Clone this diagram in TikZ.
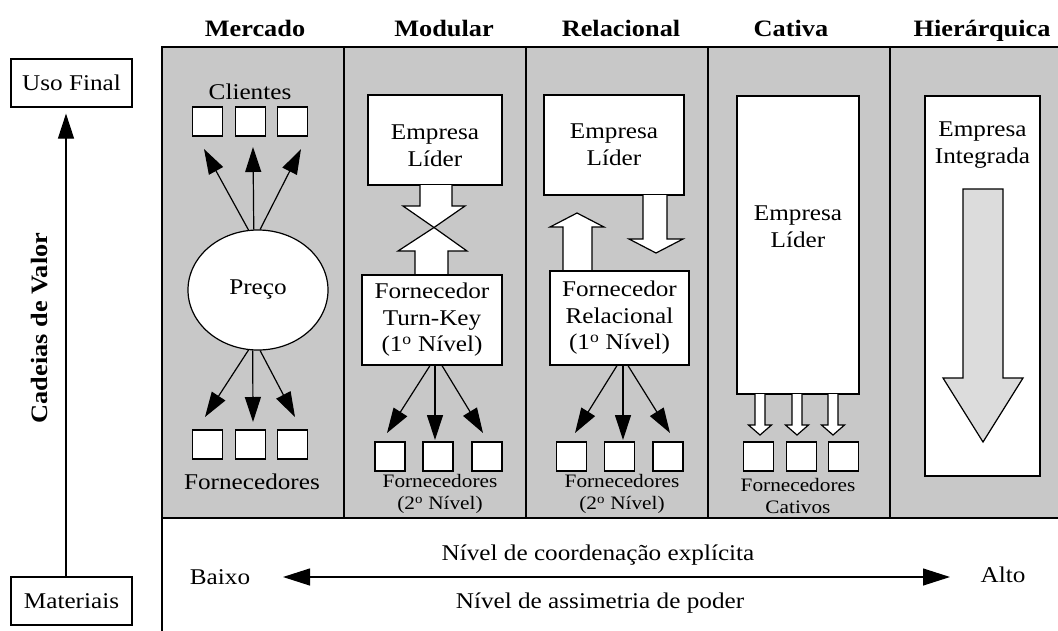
\documentclass[tikz,border=0pt]{standalone}
\usepackage{fontspec}
\setmainfont{Liberation Serif}[FakeStretch=1.12]
\usetikzlibrary{arrows.meta,shapes.geometric,calc}
\definecolor{bg}{RGB}{200,200,200}
\definecolor{ag}{RGB}{220,220,220}
\newcommand\ordo{\textsuperscript{o}}
\begin{document}
\begin{tikzpicture}[x=1pt,y=-1pt,
  lw/.style={line width=1.2pt},
  txt/.style={font=\fontsize{22.5}{27}\selectfont, align=center, inner sep=0pt},
  txtt/.style={font=\fontsize{22.5}{26.5}\selectfont, align=center, inner sep=0pt},
  sml/.style={font=\fontsize{19}{22}\selectfont, align=center, inner sep=0pt},
  ttl/.style={font=\bfseries\fontsize{23.5}{27}\selectfont, inner sep=0pt},
  wbox/.style={draw, fill=white, line width=1.2pt, inner sep=0pt},
  sq/.style={wbox, minimum width=30pt, minimum height=29pt},
  arr/.style={line width=1.2pt, -{Triangle[length=25pt,width=16pt]}},
  arrb/.style={line width=1.2pt, {Triangle[length=27pt,width=17pt]}-{Triangle[length=27pt,width=17pt]}},
  blk/.style={draw, fill=white, line width=1.2pt, line join=miter},
  blkg/.style={draw, fill=ag, line width=1.2pt, line join=miter}]
\useasboundingbox (0,0) rectangle (1058,630);
\fill[white] (0,0) rectangle (1058,630);
% frame
\draw[lw, fill=bg] (162,47) rectangle (1064,518);
\draw[lw] (162,518) -- (162,634);
\foreach \x in {344,526,708,890} \draw[lw] (\x,47) -- (\x,518);
% titles
\node[ttl, anchor=base] (tme) at (255,36) {Mercado};
\node[ttl, anchor=base] (tmo) at (444,36) {Modular};
\node[ttl, anchor=base] (tre) at (621,36) {Relacional};
\node[ttl, anchor=base] (tca) at (791,36) {Cativa};
\node[ttl, anchor=base] (thi) at (982,36) {Hierárquica};
% left axis
\node[wbox, txt, minimum width=121pt, minimum height=48pt] (uso) at (71.5,83) {Uso Final};
\node[wbox, txt, minimum width=121pt, minimum height=48pt] (mat) at (71.5,601) {Materiais};
\draw[arr, shorten >=6pt] ($(mat.north)+(-5.5,0)$) -- ($(uso.south)+(-5.5,0)$);
\node[ttl, rotate=90] (cv) at (40,328) {Cadeias de Valor};
% Mercado
\node[txt] (cli) at (250,92) {Clientes};
\node[sq] (c1) at (207.5,121.5) {};
\node[sq] (c2) at (250.5,121.5) {};
\node[sq] (c3) at (292.5,121.5) {};
\node[wbox, ellipse, minimum width=140pt, minimum height=120pt, txt] (pr) at (258,290) {Preço};
\coordinate (ct1) at (204,149);
\coordinate (ct2) at (253,147);
\coordinate (ct3) at (301,149);
\draw[arr] (pr.99) -- (ct1);
\draw[arr] (pr.94) -- (ct2);
\draw[arr] (pr.88) -- (ct3);
\coordinate (mt1) at (205,417);
\coordinate (mt2) at (253,422);
\coordinate (mt3) at (295,417);
\draw[arr] (pr.261) -- (mt1);
\draw[arr] (pr.265) -- (mt2);
\draw[arr] (pr.272) -- (mt3);
\node[sq] (f1) at (207.5,444.5) {};
\node[sq] (f2) at (250.5,444.5) {};
\node[sq] (f3) at (292.5,444.5) {};
\node[txt] (mfo) at (252,482) {Fornecedores};
% Modular
\node[wbox, minimum width=134pt, minimum height=90pt] (ml) at (435,140) {};
\node[txt] (mlt) at (435,146) {Empresa\\Líder};
\draw[blk] (420,185) -- (420,206) -- (403,206) -- (434,227.5) -- (465,206) -- (452,206) -- (452,185);
\draw[blk] (415,275) -- (415,251) -- (398,251) -- (434,227.5) -- (467,251) -- (448,251) -- (448,275);
\node[wbox, minimum width=140pt, minimum height=90pt, txtt] (ftk) at (432,320) {Fornecedor\\Turn-Key\\(1\ordo\ Nível)};
\coordinate (kt1) at (387,433);
\coordinate (kt2) at (435,440);
\coordinate (kt3) at (483,433);
\draw[arr] ($(ftk.south)+(-2,0)$) -- (kt1);
\draw[arr] ($(ftk.south)+(3,0)$) -- (kt2);
\draw[arr] ($(ftk.south)+(10,0)$) -- (kt3);
\node[sq] (k1) at (390,456.5) {};
\node[sq] (k2) at (438,456.5) {};
\node[sq] (k3) at (487,456.5) {};
\node[sml] (mfs) at (440,494) {Fornecedores\\(2\ordo\ Nível)};
% Relacional
\node[wbox, minimum width=140pt, minimum height=100pt, txt] (rl) at (614,145) {Empresa\\Líder};
\draw[blk] (643,195) -- (643,239) -- (629,239) -- (656,253) -- (683,239) -- (667,239) -- (667,195);
\draw[blk] (563,270) -- (563,227) -- (550,227) -- (577,213) -- (604,227) -- (592,227) -- (592,270);
\node[wbox, minimum width=139pt, minimum height=94pt, txtt] (frl) at (619.5,318) {Fornecedor\\Relacional\\(1\ordo\ Nível)};
\coordinate (rt1) at (575,433);
\coordinate (rt2) at (623,440);
\coordinate (rt3) at (670,433);
\draw[arr] ($(frl.south)+(-2.5,0)$) -- (rt1);
\draw[arr] ($(frl.south)+(3.5,0)$) -- (rt2);
\draw[arr] ($(frl.south)+(8.5,0)$) -- (rt3);
\node[sq] (r1) at (571.5,456.5) {};
\node[sq] (r2) at (619.5,456.5) {};
\node[sq] (r3) at (668,456.5) {};
\node[sml] (rfs) at (622,494) {Fornecedores\\(2\ordo\ Nível)};
% Cativa
\node[wbox, minimum width=122pt, minimum height=298pt] (cl) at (798,245) {};
\node[txt] (clt) at (798,227) {Empresa\\Líder};
\foreach \c in {760,797,833}
  \draw[blk] ({\c-5},394) -- ({\c-5},425) -- ({\c-11.5},425) -- (\c,435) -- ({\c+11.5},425) -- ({\c+5},425) -- ({\c+5},394);
\node[sq] (v1) at (758.5,456.5) {};
\node[sq] (v2) at (801.5,456.5) {};
\node[sq] (v3) at (843.5,456.5) {};
\node[sml] (cfs) at (798,496) {Fornecedores\\Cativos};
% Hierarquica
\node[wbox, minimum width=115pt, minimum height=380pt] (hl) at (982.5,286) {};
\node[txt] (hlt) at (982.5,145) {Empresa\\Integrada};
\draw[blkg] (963,189) -- (963,378) -- (943,378) -- (983,442) -- (1023,378) -- (1003,378) -- (1003,189) -- cycle;
% bottom
\node[txt] (bx) at (220,577) {Baixo};
\node[txt] (al) at (1003,575) {Alto};
\node[txt] (nc) at (598,555) {Nível de coordenação explícita};
\node[txt] (na) at (600,603) {Nível de assimetria de poder};
\coordinate (hla) at (283,577);
\coordinate (hra) at (950,577);
\draw[arrb] (hla) -- (hra);
\end{tikzpicture}
\end{document}
